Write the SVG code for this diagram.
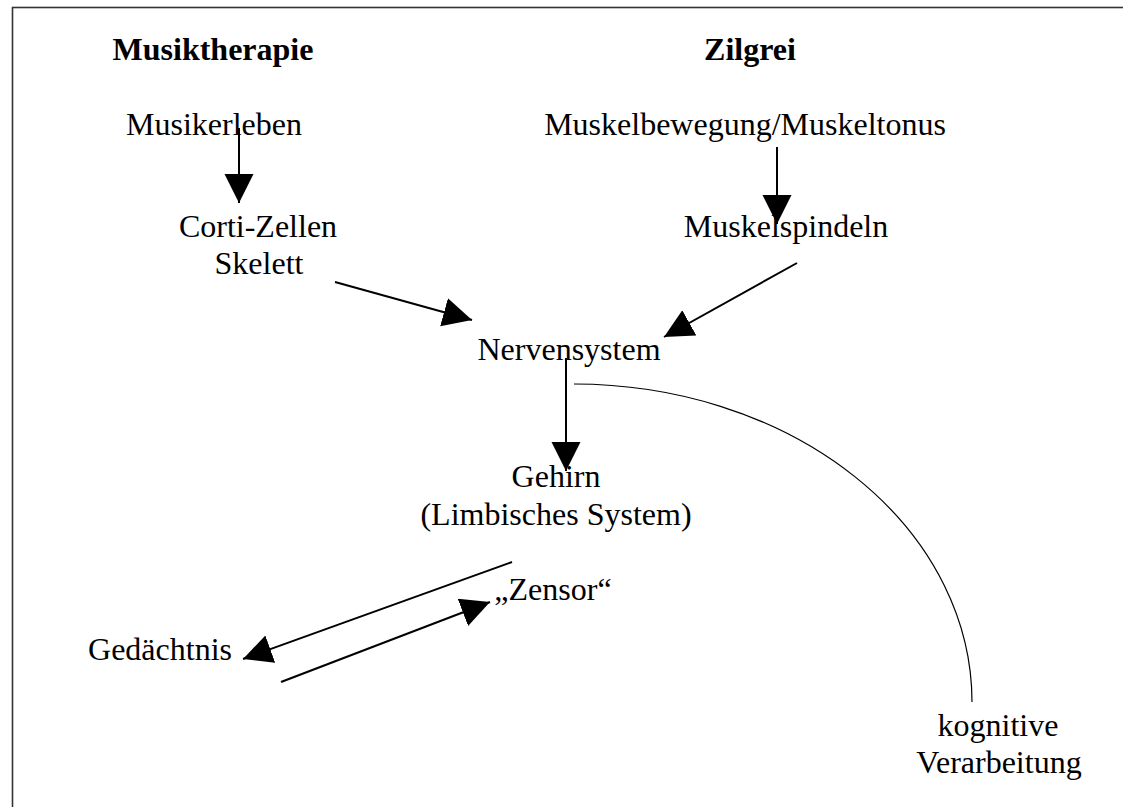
<svg xmlns="http://www.w3.org/2000/svg" width="1123" height="807" viewBox="0 0 1123 807">
  <style>
    text { font-family: "Liberation Serif", "Times New Roman", serif; font-size: 32px; fill: #000; text-anchor: middle; }
    .title { font-weight: bold; }
    .conn { stroke: #000; stroke-width: 2; fill: none; }
    .arc { stroke: #000; stroke-width: 1.2; fill: none; }
  </style>
  <defs>
    <marker id="ah" markerUnits="userSpaceOnUse" markerWidth="30" markerHeight="30" viewBox="0 0 30 30" refX="29" refY="14.5" orient="auto">
      <path d="M0,0 L29,14.5 L0,29 Z" fill="#000"/>
    </marker>
  </defs>
  <rect x="0" y="0" width="1123" height="807" fill="#fff"/>
  <rect x="12.5" y="7.5" width="1200" height="900" fill="none" stroke="#333" stroke-width="1.6"/>

  <g id="connectors">
    <line class="conn" x1="239" y1="128" x2="239" y2="203" marker-end="url(#ah)"/>
    <line class="conn" x1="777" y1="147" x2="777" y2="224" marker-end="url(#ah)"/>
    <line class="conn" x1="335" y1="282" x2="472" y2="320" marker-end="url(#ah)"/>
    <line class="conn" x1="797" y1="263" x2="664" y2="337" marker-end="url(#ah)"/>
    <line class="conn" x1="566" y1="358" x2="566" y2="471" marker-end="url(#ah)"/>
    <path class="arc" d="M574,384 A398,318 0 0 1 972,702"/>
    <line class="conn" x1="512" y1="562" x2="243" y2="659" marker-end="url(#ah)"/>
    <line class="conn" x1="281" y1="682" x2="490" y2="602" marker-end="url(#ah)"/>
  </g>

  <g id="musiktherapie"><text class="title" x="213" y="60">Musiktherapie</text></g>
  <g id="zilgrei"><text class="title" x="750" y="60">Zilgrei</text></g>
  <g id="musikerleben"><text x="214" y="135">Musikerleben</text></g>
  <g id="muskelbewegung"><text x="745" y="135">Muskelbewegung/Muskeltonus</text></g>
  <g id="corti"><text x="258" y="237">Corti-Zellen</text><text x="259" y="274">Skelett</text></g>
  <g id="muskelspindeln"><text x="786" y="237">Muskelspindeln</text></g>
  <g id="nervensystem"><text x="569" y="360">Nervensystem</text></g>
  <g id="gehirn"><text x="556" y="487">Gehirn</text><text x="556" y="525">(Limbisches System)</text></g>
  <g id="zensor"><text x="553" y="600">„Zensor“</text></g>
  <g id="gedaechtnis"><text x="160" y="660">Gedächtnis</text></g>
  <g id="kognitive"><text x="998" y="736">kognitive</text><text x="999" y="773">Verarbeitung</text></g>
</svg>
